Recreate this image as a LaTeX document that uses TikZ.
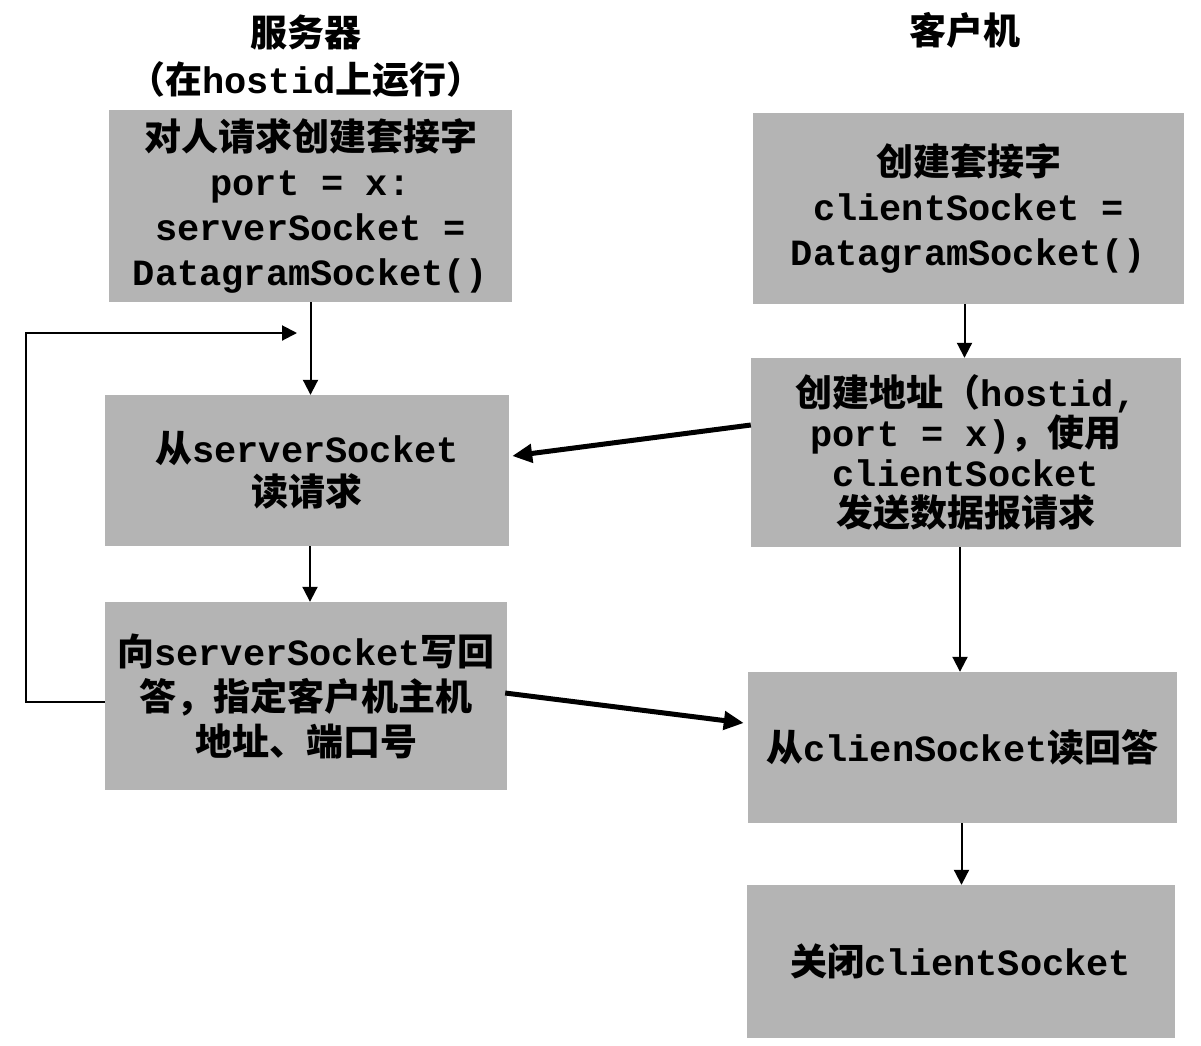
\documentclass[tikz,border=0pt]{standalone}
\usepackage{fontspec}
\setmainfont{Liberation Mono}
\newfontfamily\cj{Noto Sans CJK SC Bold}
\usetikzlibrary{arrows.meta}
\newcommand\zh[1]{{\cj #1}}
\definecolor{boxgray}{RGB}{180,180,180}
\begin{document}
\begin{tikzpicture}[x=1pt,y=-1pt,
  box/.style={fill=boxgray, inner sep=0pt, align=center,
    font=\fontsize{37}{45}\selectfont\bfseries},
  head/.style={inner sep=0pt, font=\fontsize{37}{45}\selectfont\bfseries},
  thin/.style={line width=2pt, -{Triangle[length=15pt,width=15pt]}},
  thick/.style={line width=5pt, -{Triangle[length=20pt,width=18pt]}}]
\useasboundingbox (0,0) rectangle (1201,1045);
\fill[white] (0,0) rectangle (1201,1045);

% headings
\node[head] (hs) at (306,32) {\zh{服务器}};
\node[head] (hs2) at (306,80) {\zh{（在}hostid\zh{上运行）}};
\node[head] (hc) at (965,30) {\zh{客户机}};

% server boxes
\node[box, minimum width=403pt, minimum height=192pt] (s1) at (310.5,206)
  {\zh{对人请求创建套接字}\\port = x:\\serverSocket =\\DatagramSocket()};
\node[box, minimum width=404pt, minimum height=151pt,
  font=\fontsize{37}{43}\selectfont\bfseries] (s2) at (307,470.5)
  {\zh{从}serverSocket\\\zh{读请求}};
\node[box, minimum width=402pt, minimum height=188pt] (s3) at (306,696)
  {\zh{向}serverSocket\zh{写回}\\\zh{答，指定客户机主机}\\\zh{地址、端口号}};

% client boxes
\node[box, minimum width=431pt, minimum height=191pt] (c1) at (968.5,208.5)
  {\zh{创建套接字}\\clientSocket =\\DatagramSocket()};
\node[box, minimum width=430pt, minimum height=189pt,
  font=\fontsize{37}{40}\selectfont\bfseries] (c2) at (966,452.5)
  {\zh{创建地址（}hostid,\\port = x)\zh{，使用}\\clientSocket\\\zh{发送数据报请求}};
\node[box, minimum width=429pt, minimum height=151pt] (c3) at (962.5,747.5)
  {\zh{从}clienSocket\zh{读回答}};
\node[box, minimum width=428pt, minimum height=153pt] (c4) at (961,961.5)
  {\zh{关闭}clientSocket};

% server flow
\draw[thin] (s1.south) -- (s1.south |- s2.north);
\draw[thin] ([xshift=3pt]s2.south) -- ([xshift=3pt]s2.south |- s3.north);
\coordinate (lc) at (297,333);
\draw[thin] ([yshift=-6pt]s3.west) -- ++(-79,0) |- (lc);

% client flow
\draw[thin] ([xshift=-4pt]c1.south) -- ([xshift=-4pt]c1.south |- c2.north);
\draw[thin] ([xshift=-6pt]c2.south) -- ([xshift=-6pt]c2.south |- c3.north);
\draw[thin] ([xshift=-1pt]c3.south) -- ([xshift=-1pt]c3.south |- c4.north);

% messages
\draw[thick] ([yshift=27.5pt]c2.west) -- ([yshift=14.5pt,xshift=3pt]s2.east);
\draw[thick] ([yshift=3pt,xshift=-2pt]s3.east) -- ([yshift=24.5pt,xshift=-4pt]c3.west);
\end{tikzpicture}
\end{document}
